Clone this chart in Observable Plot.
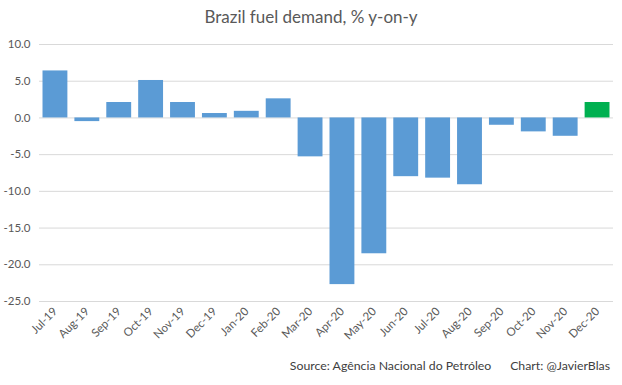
<!DOCTYPE html>
<html>
<head>
<meta charset="utf-8">
<script src="https://cdn.jsdelivr.net/npm/d3@7"></script>
<script src="https://cdn.jsdelivr.net/npm/@observablehq/plot@0.6"></script>
<style>
  html, body { margin: 0; padding: 0; background: #fff; }
  #wrap { position: relative; width: 622px; height: 385px; font-family: Lato, "Open Sans", sans-serif; }
  #title { position: absolute; left: 0; width: 622px; top: 6px; text-align: center; font-size: 17px; color: #595959; }
  #source { position: absolute; right: 12px; top: 358px; font-size: 12.3px; color: #404040; white-space: pre; }
</style>
</head>
<body>
<div id="wrap">
  <div id="chart"></div>
  <div id="title">Brazil fuel demand, % y-on-y</div>
  <div id="source">Source: Agência Nacional do Petróleo      Chart: @JavierBlas</div>
</div>
<script>
const months = ["Jul-19","Aug-19","Sep-19","Oct-19","Nov-19","Dec-19","Jan-20","Feb-20","Mar-20","Apr-20","May-20","Jun-20","Jul-20","Aug-20","Sep-20","Oct-20","Nov-20","Dec-20"];
const values = [6.4, -0.5, 2.1, 5.1, 2.1, 0.6, 0.9, 2.6, -5.3, -22.7, -18.5, -8.0, -8.2, -9.1, -1.0, -1.9, -2.5, 2.1];
const highlighted = ["Dec-20"];
const yTicks = [10, 5, 0, -5, -10, -15, -20, -25];

const data = months.map((m, i) => ({month: m, value: values[i]}));

const chart = Plot.plot({
  width: 622,
  height: 385,
  marginTop: 44,
  marginBottom: 84,
  marginLeft: 39,
  marginRight: 9,
  style: {fontFamily: "Lato, 'Open Sans', sans-serif", fontSize: "11.5px", color: "#595959"},
  x: {domain: months, paddingInner: 0.22, paddingOuter: 0.11, round: false, label: null},
  y: {domain: [-25, 10], label: null},
  marks: [
    Plot.ruleY(yTicks, {stroke: "#D9D9D9", strokeWidth: 1}),
    Plot.barY(data, {x: "month", y: "value", fill: d => highlighted.includes(d.month) ? "#00B050" : "#5B9BD5"}),
    Plot.axisY(yTicks, {tickSize: 0, tickPadding: 9, tickFormat: d => d.toFixed(1), label: null, fill: "#595959", fontSize: 11.5}),
    Plot.axisX({tickSize: 0, tickRotate: -45, tickPadding: 8, label: null, fill: "#595959", fontSize: 11.5})
  ]
});
document.getElementById("chart").appendChild(chart);
</script>
</body>
</html>
